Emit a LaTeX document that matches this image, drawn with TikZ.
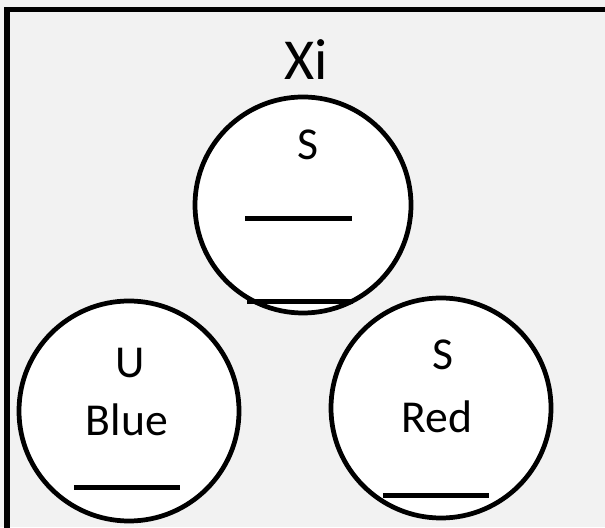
\documentclass[tikz,border=0pt]{standalone}
\usepackage{fontspec}
\setmainfont{Carlito}
\usetikzlibrary{calc}
\definecolor{panelgray}{HTML}{F2F2F2}
\tikzset{
    ball/.style={circle, draw, line width=2.7pt, fill=white, inner sep=0pt, minimum size=4.4cm},
    lbl/.style={anchor=base, inner sep=0pt, font=\fontsize{26}{31}\selectfont},
    blank/.style={inner sep=0pt},
}
\newcommand{\Blank}{\rule{2.13cm}{0.1cm}}

\begin{document}
\begin{tikzpicture}
    \clip (0,0) rectangle (12.1,10.54);
    \fill[panelgray] (0,0) rectangle (12.1,10.54);
    \draw[line width=3.2pt] (0.14,-1) rectangle (13,10.35);
    \node[lbl, font=\fontsize{33}{38}\selectfont] (title) at (6.12,8.94) {Xi};
    \node[ball, minimum size=4.32cm] (topball) at (6.06,6.44) {};
    \node[ball] (leftball) at (2.58,2.32) {};
    \node[ball] (rightball) at (8.82,2.38) {};
    \node[lbl] (topS) at (6.16,7.34) {S};
    \node[blank] (topline) at (5.97,6.16) {\Blank};
    \node[blank] (topbase) at (6.0,4.5) {\Blank};
    \node[lbl] (leftU) at (2.60,2.98) {U};
    \node[lbl] (leftcol) at (2.54,1.82) {Blue};
    \node[blank] (leftline) at (2.54,0.80) {\Blank};
    \node[lbl] (rightS) at (8.86,3.14) {S};
    \node[lbl] (rightcol) at (8.74,1.88) {Red};
    \node[blank] (rightline) at (8.72,0.64) {\Blank};
\end{tikzpicture}
\end{document}
